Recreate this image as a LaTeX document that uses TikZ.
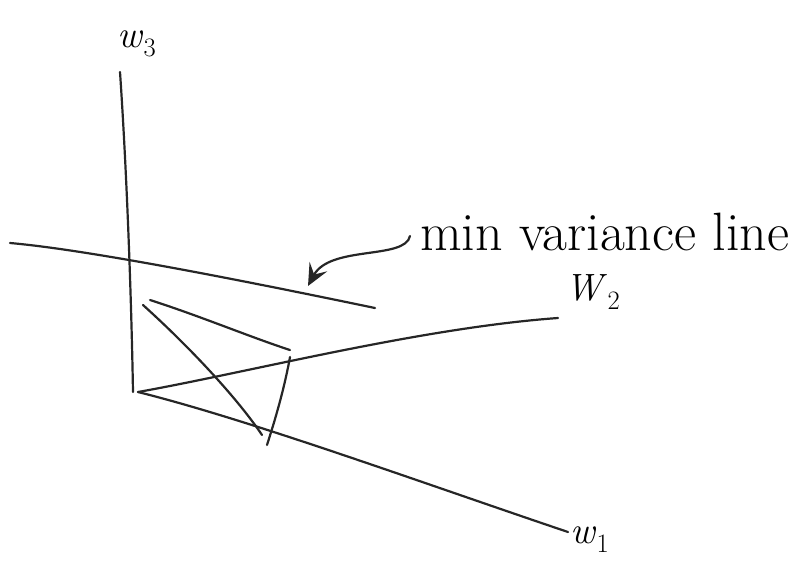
\documentclass[tikz,border=0pt]{standalone}
\usetikzlibrary{arrows.meta}
\tikzset{
  pen/.style={line width=2.2pt, line cap=round, line join=round, black!85},
  lbl/.style={inner sep=0pt, font=\fontsize{38}{46}\selectfont},
  big/.style={inner sep=0pt, font=\fontsize{54}{62}\selectfont},
}
\begin{document}
\begin{tikzpicture}[x=1pt,y=-1pt]
\useasboundingbox (0,0) rectangle (797,565);
% axis end points
\coordinate (o) at (138,392);
\coordinate (w3top) at (120,72);
\coordinate (w3bot) at (133,392);
\coordinate (w2end) at (558,318);
\coordinate (w1end) at (568,532);
% min variance line
\coordinate (mvA) at (10,243);
\coordinate (mvB) at (375,308);
% inner lines
\coordinate (pA) at (150,300);
\coordinate (pB) at (290,350);
\coordinate (dA) at (143,305);
\coordinate (dB) at (262,435);
\coordinate (vA) at (290,357);
\coordinate (vB) at (267,445);
% arrow
\coordinate (arS) at (410,236);
\coordinate (arE) at (308,286);
% axes
\draw[pen] (w3top) .. controls (126,160) and (131,280) .. (w3bot);
\draw[pen] (o) .. controls (250,372) and (420,328) .. (w2end);
\draw[pen] (o) .. controls (250,420) and (420,482) .. (w1end);
\draw[pen] (mvA) .. controls (90,250) and (250,282) .. (mvB);
\draw[pen] (pA) .. controls (200,316) and (250,337) .. (pB);
\draw[pen] (dA) .. controls (195,352) and (240,402) .. (dB);
\draw[pen] (vA) .. controls (284,390) and (275,420) .. (vB);
\draw[pen, -{Stealth[length=22pt,width=20pt,inset=9pt]}] (arS) .. controls (405,260) and (330,245) .. (arE);
% labels
\node[lbl] (l3) at (137,44) {\textit{w}\textsubscript{3}};
\node[lbl] (l2) at (593,292) {\textit{W}\textsubscript{2}};
\node[lbl] (l1) at (590,540) {\textit{w}\textsubscript{1}};
\node[big, anchor=west] (lm) at (420,232) {min variance line};
\end{tikzpicture}
\end{document}
